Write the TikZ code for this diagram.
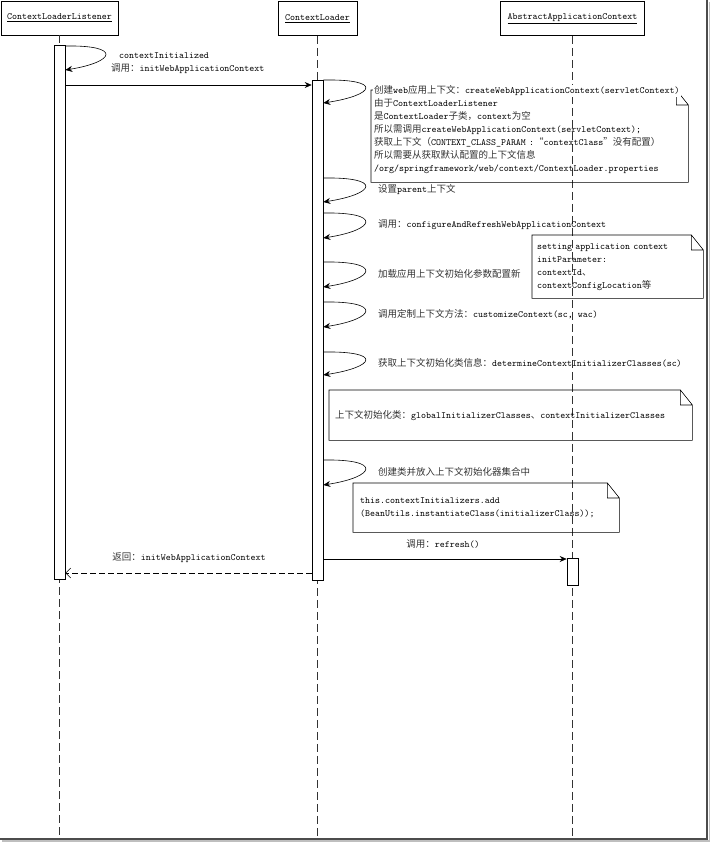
\documentclass[tikz,border=0pt]{standalone}
\usepackage{fontspec}
\newfontfamily\cjk{Noto Sans CJK SC}
\newcommand\zh[1]{{\cjk\color{black!80}#1}}
\usetikzlibrary{positioning,calc,arrows.meta}

\begin{document}
\begin{tikzpicture}
        [x=1pt,y=-1pt,
        every node/.style={font=\ttfamily\fontsize{9.5}{13}\selectfont,inner sep=1pt},
        head/.style={draw=black,line width=0.8pt,minimum height=34pt,inner sep=0pt},
        bar/.style={draw=black,fill=white,line width=0.6pt,minimum width=11pt,anchor=north},
        life/.style={draw=black!80,dash pattern=on 8pt off 4pt,line width=0.6pt},
        msg/.style={-{Stealth[length=7pt,width=6pt]},line width=0.6pt},
        back/.style={-{Straight Barb[length=5pt,width=10pt]},dash pattern=on 6pt off 3pt,line width=0.6pt},
        notebox/.style={align=left,anchor=north west,inner ysep=0pt},
        lbl/.style={anchor=west,align=left}]
        \useasboundingbox (0,0) rectangle (712,843);
        \node[head,minimum width=117pt] (h1) at (59.5,18) {\underline{ContextLoaderListener}};
        \node[head,minimum width=79pt] (h2) at (317.5,18.5) {\underline{ContextLoader}};
        \node[head,minimum width=144pt] (h3) at (572.5,18.5) {\underline{AbstractApplicationContext}};
        \foreach \i/\x in {1/59.5,2/317.5,3/572.5}
            \coordinate (e\i) at (\x,839);
        \draw[life] (h1) -- (e1);
        \draw[life] (h2) -- (e2);
        \draw[life] (h3) -- (e3);
        \node[bar,minimum height=534pt] (bar1) at (59.5,45) {};
        \node[bar,minimum height=500pt] (bar2) at (317.5,80) {};
        \node[bar,minimum height=27pt] (bar3) at (572.5,558) {};

        \node[notebox,text width=311pt,inner xsep=3pt,minimum height=92pt] (n1) at (371,90)
            {\zh{由于}ContextLoaderListener\\
             \zh{是}ContextLoader\zh{子类，}context\zh{为空}\\
             \zh{所以需调用}createWebApplicationContext(servletContext);\\
             \zh{获取上下文（}CONTEXT\_CLASS\_PARAM :\zh{“}contextClass\zh{”没有配置）}\\
             \zh{所以需要从获取默认配置的上下文信息}\\
             /org/springframework/web/context/ContextLoader.properties};
        \node[notebox,text width=161pt,inner xsep=5pt,minimum height=63pt] (n2) at (532,235)
            {setting application context\\initParameter:\\contextId\zh{、}\\contextConfigLocation\zh{等}};
        \node[notebox,text width=351pt,inner xsep=6pt,minimum height=50pt] (n3) at (329,390)
            {\zh{上下文初始化类：}globalInitializerClasses\zh{、}contextInitializerClasses};
        \node[notebox,text width=252pt,inner xsep=7pt,minimum height=49pt] (n4) at (353,483)
            {this.contextInitializers.add\\(BeanUtils.instantiateClass(initializerClass));};
        \foreach \n in {n1,n2,n3,n4}
            \draw[line width=0.6pt] (\n.north west) -- ([xshift=-12pt]\n.north east) -- ([yshift=-15pt]\n.north east)
                -- (\n.south east) -- (\n.south west) -- cycle
                ([xshift=-12pt]\n.north east) |- ([yshift=-15pt]\n.north east);

        \coordinate (c0a) at (bar1.east |- 0,46);
        \coordinate (c0b) at (bar1.east |- 0,70);
        \draw[msg] (c0a) .. controls +(57,-1) and +(50,-8) .. (c0b);
        \foreach \n/\ya/\yb in {s1/80/103,s2/178/202,s3/213/238,s4/262/287,s5/302/327,s6/352/375,s7/460/485} {
            \coordinate (\n a) at (bar2.east |- 0,\ya);
            \coordinate (\n b) at (bar2.east |- 0,\yb);
            \draw[msg] (\n a) .. controls +(60,-1) and +(52,-8) .. (\n b);
        }
        \coordinate (c1) at (0,85);
        \coordinate (c2) at (0,559);
        \coordinate (c3) at (0,573);
        \draw[msg] (bar1.east |- c1) -- (bar2.west |- c1);
        \draw[msg] (bar2.east |- c2) -- (bar3.west |- c2);
        \draw[back] (bar2.west |- c3) -- (bar1.east |- c3);

        \node[lbl] (l0) at (110,63.5) {\hspace{8pt}contextInitialized\\\zh{调用：}initWebApplicationContext};
        \node (l1) at (189,558) {\zh{返回：}initWebApplicationContext};
        \node (l2) at (443,544) {\zh{调用：}refresh()};
        \node[lbl,fill=white] (t1) at (373,91) {\zh{创建}web\zh{应用上下文：}createWebApplicationContext(servletContext)};
        \node[lbl] (t2) at (377,190) {\zh{设置}parent\zh{上下文}};
        \node[lbl] (t3) at (377,225) {\zh{调用：}configureAndRefreshWebApplicationContext};
        \node[lbl] (t4) at (377,274) {\zh{加载应用上下文初始化参数配置新}};
        \node[lbl] (t5) at (377,314) {\zh{调用定制上下文方法：}customizeContext(sc, wac)};
        \node[lbl] (t6) at (377,363) {\zh{获取上下文初始化类信息：}determineContextInitializerClasses(sc)};
        \node[lbl] (t7) at (377,472) {\zh{创建类并放入上下文初始化器集合中}};

        \draw[black!25,line width=1.5pt] (709.5,2) -- (709.5,841) -- (2,841);
        \draw[black!70,line width=1.5pt] (707,0) -- (707,839) -- (0,839);
\end{tikzpicture}
\end{document}
